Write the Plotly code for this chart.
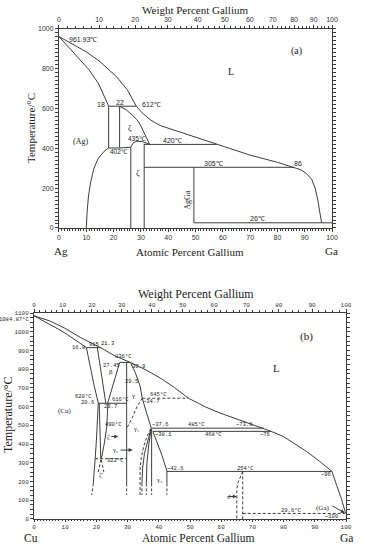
import plotly.graph_objects as go

# ---------------- data: panel (a) Ag-Ga ----------------
a_liq_x = [0, 5, 10, 15, 21, 25, 28.3, 30.5, 33.5, 37, 42, 46, 50, 57.7, 70, 80, 86, 88.5, 90.5, 92.5, 93.8, 94.8, 95.5, 96.2]
a_liq_y = [961.93, 925, 885, 836, 761, 695, 612, 578, 543, 515, 493, 473, 457, 420, 366, 330, 305, 293, 275, 245, 200, 140, 80, 26]
a_sol_x = [0, 4, 8, 11, 14.5, 18.2]
a_sol_y = [961.93, 900, 840, 795, 725, 612]
a_dome_x = [22.2, 24.5, 26.7, 28.5, 29.8, 31.6, 33.2]
a_dome_y = [612, 595, 569, 545, 518, 468, 420]
a_612_x = [18.2, 28.3]
a_612_y = [612, 612]
a_v18_x = [18.2, 18.2]
a_v18_y = [612, 402]
a_v22_x = [22.2, 22.2]
a_v22_y = [612, 402]
a_402_x = [18.2, 22.2, 26.3, 27.2, 28.5, 30.5, 32, 33.2]
a_402_y = [402, 402, 406, 428, 436, 434, 427, 420]
a_v26_x = [26.3, 26.3]
a_v26_y = [406, 0]
a_v31_x = [31.2, 31.2]
a_v31_y = [423, 0]
a_420_x = [31.2, 57.7]
a_420_y = [420, 420]
a_305_x = [31.2, 86]
a_305_y = [305, 305]
a_agga_x = [49.4, 49.4]
a_agga_y = [305, 26]
a_26_x = [49.4, 100]
a_26_y = [26, 26]
a_solv_x = [18.2, 16.5, 14.4, 12.8, 11.6, 10.8, 10.3, 10.0]
a_solv_y = [402, 385, 350, 300, 230, 160, 80, 0]

# ---------------- data: panel (b) Cu-Ga ----------------
b_liq_x = [0, 5, 10, 15, 21.3, 26, 30.9, 33, 36, 40.9, 45, 49.5, 55, 59.6, 65, 73.6, 76, 80, 87.4, 91, 95.5, 97, 98.5, 99.7, 100]
b_liq_y = [1084.87, 1058, 1018, 968, 915, 870, 836, 818, 795, 748, 702, 645, 598, 566, 535, 485, 468, 440, 360, 315, 254, 180, 110, 40, 29.77]
b_sol_x = [0, 4, 8, 10.7, 13, 16.8]
b_sol_y = [1084.87, 1050, 1012, 985, 960, 915]
b_915_x = [16.8, 21.3]
b_915_y = [915, 915]
b_cu_x = [16.8, 18.0, 19.3, 20.6, 20.4, 20.0, 19.6, 19.2, 19.0]
b_cu_y = [915, 810, 710, 620, 520, 420, 322, 240, 190]
b_cu_dx = [19.0, 18.5]
b_cu_dy = [190, 128]
b_betal_x = [20.3, 21.6, 23.0]
b_betal_y = [915, 760, 620]
b_betar_x = [27.45, 25.5, 23.6]
b_betar_y = [836, 720, 618]
b_836_x = [27.45, 30.9]
b_836_y = [836, 836]
b_618_x = [20.6, 29.7]
b_618_y = [618, 618]
b_gl_x = [29.7, 29.7]
b_gl_y = [836, 190]
b_gl_dx = [29.7, 29.7]
b_gl_dy = [190, 128]
b_gr_x = [30.9, 32.5, 34.0, 34.7, 36.0, 37.6]
b_gr_y = [836, 780, 710, 645, 570, 485]
b_645_x = [34.7, 49.5]
b_645_y = [645, 645]
b_gg1_x = [29.9, 31.5, 33.0, 34.7]
b_gg1_y = [490, 540, 600, 645]
b_zl_x = [20.9, 21.1, 21.4]
b_zl_y = [618, 480, 322]
b_zr_x = [23.7, 23.3, 22.5, 21.6]
b_zr_y = [618, 490, 400, 322]
b_322_x = [19.6, 29.7]
b_322_y = [322, 322]
b_zp_x = [20.6, 21.5, 22.4]
b_zp_y = [250, 322, 250]
b_485_x = [37.6, 73.6]
b_485_y = [485, 485]
b_468_x = [38.1, 76]
b_468_y = [468, 468]
b_c1_x = [37.4, 36.2, 35.2, 34.4, 34.0, 34.0]
b_c1_y = [482, 440, 390, 330, 270, 128]
b_c2_x = [37.5, 36.4, 35.4, 34.8, 34.6]
b_c2_y = [482, 420, 350, 270, 190]
b_c2_dx = [34.6, 34.6]
b_c2_dy = [190, 128]
b_c3_x = [37.6, 36.8, 36.2, 36.0]
b_c3_y = [482, 400, 300, 190]
b_c3_dx = [36.0, 36.0]
b_c3_dy = [190, 128]
b_c4_x = [37.7, 37.7]
b_c4_y = [482, 190]
b_c4_dx = [37.7, 37.7]
b_c4_dy = [190, 128]
b_c5_x = [38.1, 39.5, 41, 42.6, 42.6]
b_c5_y = [468, 410, 340, 256, 190]
b_c5_dx = [42.6, 42.6]
b_c5_dy = [190, 128]
b_254_x = [42.6, 95.5]
b_254_y = [254, 254]
b_th1_x = [66.9, 66.2, 65.3, 65.0, 65.0]
b_th1_y = [254, 230, 190, 155, 0]
b_th2_x = [66.9, 66.9]
b_th2_y = [254, 0]
b_296_x = [66.9, 99.7]
b_296_y = [29.6, 29.6]

WT_TICKS = [0, 10, 20, 30, 40, 50, 60, 70, 80, 90, 100]
M_AG, M_CU, M_GA = 107.8682, 63.546, 69.723


def wt_to_at(w, m_base):
    if w <= 0:
        return 0.0
    if w >= 100:
        return 100.0
    ng = w / M_GA
    nb = (100 - w) / m_base
    return 100 * ng / (ng + nb)


LC = "#3c3c3c"
fig = go.Figure()


def line(x, y, xa, ya, dash=None):
    fig.add_trace(go.Scatter(x=x, y=y, xaxis=xa, yaxis=ya, mode="lines",
                             line=dict(color=LC, width=1, dash=dash),
                             hoverinfo="skip", showlegend=False))


for xs, ys in [(a_liq_x, a_liq_y), (a_sol_x, a_sol_y), (a_dome_x, a_dome_y),
               (a_612_x, a_612_y), (a_v18_x, a_v18_y), (a_v22_x, a_v22_y),
               (a_402_x, a_402_y), (a_v26_x, a_v26_y), (a_v31_x, a_v31_y),
               (a_420_x, a_420_y), (a_305_x, a_305_y), (a_agga_x, a_agga_y),
               (a_26_x, a_26_y), (a_solv_x, a_solv_y)]:
    line(xs, ys, "x", "y")
fig.add_trace(go.Scatter(x=[0], y=[0], xaxis="x2", yaxis="y", mode="markers",
                         marker=dict(opacity=0), hoverinfo="skip", showlegend=False))

solid_b = [(b_liq_x, b_liq_y), (b_sol_x, b_sol_y), (b_915_x, b_915_y), (b_cu_x, b_cu_y),
           (b_betal_x, b_betal_y), (b_betar_x, b_betar_y), (b_836_x, b_836_y),
           (b_618_x, b_618_y), (b_gl_x, b_gl_y), (b_gr_x, b_gr_y), (b_zl_x, b_zl_y),
           (b_zr_x, b_zr_y), (b_485_x, b_485_y), (b_468_x, b_468_y), (b_c2_x, b_c2_y),
           (b_c3_x, b_c3_y), (b_c4_x, b_c4_y), (b_c5_x, b_c5_y), (b_254_x, b_254_y)]
dash_b = [(b_cu_dx, b_cu_dy), (b_gl_dx, b_gl_dy), (b_645_x, b_645_y), (b_gg1_x, b_gg1_y),
          (b_322_x, b_322_y), (b_zp_x, b_zp_y), (b_c1_x, b_c1_y), (b_c2_dx, b_c2_dy),
          (b_c3_dx, b_c3_dy), (b_c4_dx, b_c4_dy), (b_c5_dx, b_c5_dy), (b_th1_x, b_th1_y),
          (b_th2_x, b_th2_y), (b_296_x, b_296_y)]
for xs, ys in solid_b:
    line(xs, ys, "x3", "y2")
for xs, ys in dash_b:
    line(xs, ys, "x3", "y2", dash="3px,2px")
fig.add_trace(go.Scatter(x=[0], y=[0], xaxis="x4", yaxis="y2", mode="markers",
                         marker=dict(opacity=0), hoverinfo="skip", showlegend=False))

# ---------------- axes ----------------
SANS = "Liberation Sans"
SERIF = "Liberation Serif"
MONO = "Liberation Mono"
dom_ax = [0.154, 0.867]
dom_ay = [0.5855, 0.9473]
dom_bx = [0.0888, 0.9034]
dom_by = [0.0564, 0.4309]

top_a = [wt_to_at(w, M_AG) for w in WT_TICKS]
top_b = [wt_to_at(w, M_CU) for w in WT_TICKS]
minor_a = [wt_to_at(w, M_AG) for w in range(0, 101, 2)]
minor_b = [wt_to_at(w, M_CU) for w in range(0, 101, 2)]

common = dict(showgrid=False, zeroline=False, showline=True, linecolor=LC, linewidth=1,
              ticks="outside", tickcolor=LC, tickwidth=1, automargin=False)

fig.update_layout(
    template="none",
    width=383, height=550, margin=dict(l=0, r=0, t=0, b=0, autoexpand=False),
    paper_bgcolor="white", plot_bgcolor="white", showlegend=False,
    xaxis=dict(domain=dom_ax, range=[0, 100], anchor="y", dtick=10, ticklen=3,
               minor=dict(dtick=1, ticklen=2, ticks="outside", tickcolor=LC),
               tickfont=dict(family=SANS, size=7, color="#333"), **common),
    xaxis2=dict(domain=dom_ax, range=[0, 100], anchor="y", overlaying="x", side="top",
                tickmode="array", tickvals=top_a, ticktext=[str(w) for w in WT_TICKS], ticklen=3,
                minor=dict(tickmode="array", tickvals=minor_a, ticklen=2, ticks="outside", tickcolor=LC),
                tickfont=dict(family=SANS, size=7, color="#333"), **common),
    yaxis=dict(domain=dom_ay, range=[0, 1000], anchor="x", dtick=200, ticklen=3, mirror="allticks",
               minor=dict(dtick=20, ticklen=2, ticks="outside", tickcolor=LC),
               tickfont=dict(family=SANS, size=7, color="#333"), **common),
    xaxis3=dict(domain=dom_bx, range=[0, 100], anchor="y2", dtick=10, ticklen=2,
                minor=dict(dtick=1, ticklen=1.5, ticks="outside", tickcolor=LC),
                tickfont=dict(family=MONO, size=6, color="#333"), **common),
    xaxis4=dict(domain=dom_bx, range=[0, 100], anchor="y2", overlaying="x3", side="top",
                tickmode="array", tickvals=top_b, ticktext=[str(w) for w in WT_TICKS], ticklen=3,
                minor=dict(tickmode="array", tickvals=minor_b, ticklen=2, ticks="outside", tickcolor=LC),
                tickfont=dict(family=MONO, size=6, color="#333"), **common),
    yaxis2=dict(domain=dom_by, range=[0, 1100], anchor="x3", dtick=100, ticklen=3, mirror="allticks",
                minor=dict(dtick=25, ticklen=2, ticks="outside", tickcolor=LC),
                tickfont=dict(family=MONO, size=6, color="#333"), **common),
)

ann = []


def lab(text, x, y, xr, yr, size=7, family=SANS, **kw):
    d = dict(text=text, x=x, y=y, xref=xr, yref=yr, showarrow=False,
             xanchor="center", yanchor="middle",
             font=dict(family=family, size=size, color="#222"))
    d.update(kw)
    ann.append(d)


def py(px):
    return 1 - px / 550


def pxx(px):
    return px / 383


lab("Weight Percent Gallium", pxx(195), py(10), "paper", "paper", size=11, family=SERIF)
lab("Atomic Percent Gallium", pxx(190), py(252), "paper", "paper", size=11, family=SERIF)
lab("Ag", pxx(61), py(251), "paper", "paper", size=11, family=SERIF)
lab("Ga", pxx(331), py(251), "paper", "paper", size=11, family=SERIF)
lab("Temperature/°C", pxx(31), py(128), "paper", "paper", size=11, family=SERIF, textangle=-90)

lab("Weight Percent Gallium", pxx(196), py(294), "paper", "paper", size=12, family=SERIF)
lab("Atomic Percent Gallium", pxx(198), py(538), "paper", "paper", size=11.5, family=SERIF)
lab("Cu", pxx(31), py(538), "paper", "paper", size=11.5, family=SERIF)
lab("Ga", pxx(346), py(538), "paper", "paper", size=11.5, family=SERIF)
lab("Temperature/°C", pxx(8), py(415), "paper", "paper", size=12, family=SERIF, textangle=-90)
lab("1084.87°C", pxx(31), py(319), "paper", "paper", size=5.5, family=MONO, xanchor="right")

# panel (a) labels
A = ("x", "y")
lab("961.93℃", 3, 945, *A, xanchor="left")
lab("(a)", 87, 890, *A, size=10, family=SERIF)
lab("L", 63, 784, *A, size=10, family=SERIF)
lab("18", 15.5, 620, *A)
lab("22", 22.5, 632, *A)
lab("612℃", 34, 620, *A)
lab("ζ", 26, 500, *A, size=9, family=SERIF)
lab("(Ag)", 7.7, 433, *A, size=8, family=SERIF)
lab("435℃", 28.5, 452, *A, size=6.5)
lab("402℃", 22, 382, *A, size=6.5)
lab("420℃", 41.7, 442, *A)
lab("305℃", 56.7, 326, *A)
lab("86", 87.7, 326, *A)
lab("ζ", 29, 276, *A, size=9, family=SERIF)
lab("AgGa", 47.3, 142, *A, size=8, family=SERIF, textangle=-90)
lab("26℃", 72.7, 46, *A)
lab("29.8℃", 100.5, 30, *A, xanchor="left")

# panel (b) labels
B = ("x3", "y2")
S = 5.5
lab("(b)", 87.4, 973, *B, size=11, family=SERIF)
lab("L", 77.8, 805, *B, size=11, family=SERIF)
lab("16.8", 14.2, 917, *B, size=S, family=MONO)
lab("915", 19.3, 930, *B, size=S, family=MONO)
lab("21.3", 23.7, 936, *B, size=S, family=MONO)
lab("836°C", 28.6, 867, *B, size=S, family=MONO)
lab("30.9", 33.6, 812, *B, size=S, family=MONO)
lab("27.45", 24.7, 822, *B, size=S, family=MONO)
lab("β", 24.8, 785, *B, size=7, family=SERIF)
lab("29.5", 31.3, 733, *B, size=S, family=MONO)
lab("γ", 31.6, 657, *B, size=7, family=SERIF)
lab("645°C", 40, 664, *B, size=S, family=MONO)
lab("~34.7", 37.8, 630, *B, size=S, family=MONO)
lab("620°C", 16, 653, *B, size=S, family=MONO)
lab("20.6", 17.2, 620, *B, size=S, family=MONO)
lab("616°C", 27.6, 637, *B, size=S, family=MONO)
lab("23.7", 24.6, 601, *B, size=S, family=MONO)
lab("(Cu)", 9.9, 578, *B, size=7, family=SERIF)
lab("490°C", 25.6, 506, *B, size=S, family=MONO)
lab("ζ", 27.0, 440, *B, size=7, family=SERIF, showarrow=True, ax=-10, ay=0,
    arrowhead=2, arrowsize=0.8, arrowwidth=1, arrowcolor=LC)
lab("322°C", 26.2, 311, *B, size=S, family=MONO)
lab("ζ'", 21.5, 215, *B, size=7, family=SERIF, showarrow=True, ax=0, ay=-10,
    arrowhead=2, arrowsize=0.8, arrowwidth=1, arrowcolor=LC, yanchor="top")
lab("γ₁", 32.9, 479, *B, size=7, family=SERIF)
lab("~37.6", 40.6, 502, *B, size=S, family=MONO)
lab("485°C", 52.1, 502, *B, size=S, family=MONO)
lab("~73.6", 67.6, 502, *B, size=S, family=MONO)
lab("~38.1", 41.6, 452, *B, size=S, family=MONO)
lab("468°C", 57.5, 452, *B, size=S, family=MONO)
lab("~76", 73.9, 452, *B, size=S, family=MONO)
lab("γ₂", 31.6, 368, *B, size=7, family=SERIF, showarrow=True, ax=-12, ay=0,
    arrowhead=2, arrowsize=0.8, arrowwidth=1, arrowcolor=LC, xanchor="right")
lab("γ₃", 40.2, 208, *B, size=7, family=SERIF)
lab("~42.6", 45.4, 267, *B, size=S, family=MONO)
lab("254°C", 67.8, 270, *B, size=S, family=MONO)
lab("~96", 93.5, 235, *B, size=S, family=MONO)
lab("ϑ", 62.4, 120, *B, size=7, family=SERIF)
lab("29.6°C", 82.6, 43, *B, size=S, family=MONO)
lab("(Ga)", 92.4, 60, *B, size=7, family=SERIF)
lab("~100", 95.5, 12, *B, size=S, family=MONO)
lab("29.7741°C", 100.6, 28, *B, size=S, family=MONO, xanchor="left")

for (xx, yy, axp, ayp) in [(65.0, 120, -10, 0), (99.6, 32, -14, -8)]:
    ann.append(dict(x=xx, y=yy, xref="x3", yref="y2", text="", showarrow=True, ax=axp, ay=ayp,
                    arrowhead=2, arrowsize=0.8, arrowwidth=1, arrowcolor=LC))

fig.update_layout(annotations=ann)
fig.write_html("out.html", config={"displayModeBar": False},
               post_script="document.body.style.margin='0';document.body.style.overflow='hidden';")
